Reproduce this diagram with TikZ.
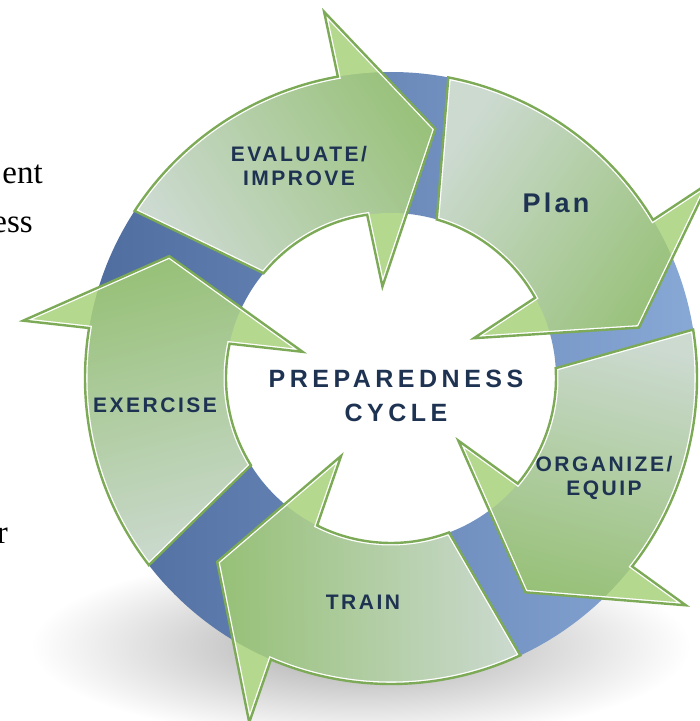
\documentclass[tikz,border=0pt]{standalone}
\usepackage{fontspec}
\usepackage{xcolor}
\usepackage{tikz}
\usetikzlibrary{calc}
\newfontfamily\labelfont[LetterSpace=12]{Liberation Sans}
\newfontfamily\titlefont[LetterSpace=18]{Liberation Sans}
\newfontfamily\slidefont{Liberation Serif}
\definecolor{ringdark}{RGB}{78,108,158}
\definecolor{ringlight}{RGB}{136,168,214}
\definecolor{tailgreen}{RGB}{204,218,208}
\definecolor{headgreen}{RGB}{150,192,118}
\definecolor{barbgreen}{RGB}{180,216,142}
\definecolor{edgegreen}{RGB}{124,170,86}
\definecolor{labelnavy}{RGB}{30,50,82}

\newcommand{\cycRin}{165}
\newcommand{\cycRout}{306}
\newcommand{\cycRtip}{253}
% outline of one arrow: tail outer, tail inner, notch outer, notch inner, tip
\newcommand{\cyclepath}[5]{(#1:\cycRout) arc[start angle=#1, end angle=#3, radius=\cycRout]
  -- ($(#4:\cycRin)!1.47!(#3:\cycRout)$) -- (#5:\cycRtip) -- ($(#3:\cycRout)!1.52!(#4:\cycRin)$)
  -- (#4:\cycRin) arc[start angle=#4, end angle=#2, radius=\cycRin] -- cycle}
\newcommand{\cyclearrow}[6]{%
  \shade[top color=headgreen, bottom color=tailgreen, shading angle=#6] \cyclepath{#1}{#2}{#3}{#4}{#5};
  \begin{scope}
    \clip \cyclepath{#1}{#2}{#3}{#4}{#5};
    \fill[barbgreen, even odd rule] (-420,-420) rectangle (420,420) (0,0) circle (\cycRout) (0,0) circle (\cycRin);
    \draw[white, line width=5] \cyclepath{#1}{#2}{#3}{#4}{#5};
  \end{scope}
  \draw[edgegreen, line width=2.4] \cyclepath{#1}{#2}{#3}{#4}{#5};
}

\begin{document}
\begin{tikzpicture}[x=1pt, y=1pt,
  steplabel/.style={text=labelnavy, inner sep=0, align=center, font=\labelfont\bfseries\fontsize{21}{24}\selectfont},
  centerlabel/.style={steplabel, font=\titlefont\bfseries\fontsize{25}{34}\selectfont},
  slidetext/.style={anchor=base east, inner sep=0, font=\slidefont\fontsize{33}{36}\selectfont}]
\useasboundingbox (-391,-343) rectangle (309,378);
\clip (-391,-343) rectangle (309,378);

% shadow and ring
\shade[inner color=black!34, outer color=white] (-30,-268) ellipse [x radius=330, y radius=95];
\shade[left color=ringdark, right color=ringlight, even odd rule] (0,0) circle (\cycRout) (0,0) circle (\cycRin);

% the five arrows, clockwise
\cyclearrow{146.9}{140.6}{100}{98.3}{79.9}{-56.5}
\cyclearrow{79.2}{73.9}{31.1}{29.1}{11.5}{-124.9}
\cyclearrow{9.1}{3.4}{-38}{-39.8}{-57.9}{165.5}
\cyclearrow{-65}{-69.4}{-113.1}{-116.6}{-133.4}{91}
\cyclearrow{217.7}{211.9}{170.6}{168}{151.2}{14.2}

\node[steplabel] (evaluate) at (-92,212) {EVALUATE/\\IMPROVE};
\node[steplabel, font=\labelfont\bfseries\fontsize{27}{30}\selectfont] (plan) at (165,175) {Plan};
\node[steplabel] (organize) at (213,-100) {ORGANIZE/\\EQUIP};
\node[steplabel] (train) at (-28,-224) {TRAIN};
\node[steplabel] (exercise) at (-236,-27) {EXERCISE};
\node[centerlabel] (cycle) at (5,-18) {PREPAREDNESS\\CYCLE};

% cut-off slide text at the left edge
\node[slidetext] (frag1) at (-348,195) {ent};
\node[slidetext] (frag2) at (-358,146) {ess};
\node[slidetext] (frag3) at (-383,-165) {r};
\end{tikzpicture}
\end{document}
